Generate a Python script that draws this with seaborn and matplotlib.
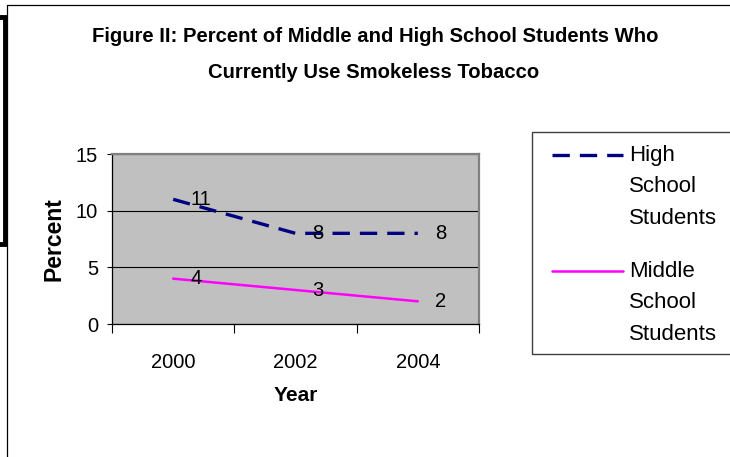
import matplotlib
matplotlib.use("Agg")
import matplotlib.pyplot as plt
from matplotlib.legend_handler import HandlerLine2D
from matplotlib.patches import Rectangle
from matplotlib.lines import Line2D
import seaborn as sns
import pandas as pd

# Survey years and the share of students using smokeless tobacco
years = ["2000", "2002", "2004"]
high_school = [11, 8, 8]
middle_school = [4, 3, 2]
series_names = ["High\nSchool\nStudents", "Middle\nSchool\nStudents"]
y_ticks = [0, 5, 10, 15]

sns.set_theme(style="white")
plt.rcParams["font.family"] = ["Liberation Sans", "DejaVu Sans"]
for key in ("text.color", "axes.labelcolor", "xtick.color", "ytick.color"):
    plt.rcParams[key] = "black"

W, H = 730, 457
fig = plt.figure(figsize=(W / 100, H / 100), dpi=100)
fig.patch.set_facecolor("white")


def fx(px):
    return px / W


def fy(py):
    return 1 - py / H


ax = fig.add_axes([fx(112), fy(324), fx(479) - fx(112), fy(154) - fy(324)])
ax.set_facecolor("#C0C0C0")

df = pd.DataFrame({
    "pos": list(range(len(years))) * 2,
    "value": high_school + middle_school,
    "group": [series_names[0]] * len(years) + [series_names[1]] * len(years),
})

sns.lineplot(data=df[df.group == series_names[0]], x="pos", y="value", ax=ax,
             color="#000080", linewidth=2.4, legend=False)
sns.lineplot(data=df[df.group == series_names[1]], x="pos", y="value", ax=ax,
             color="#FF00FF", linewidth=1.8, legend=False)
hs_line, ms_line = ax.get_lines()[:2]
hs_line.set_dashes((5.2, 3.0))
hs_line.set_dash_capstyle("butt")

# value labels beside each point
for vals in (high_school, middle_school):
    for i, v in enumerate(vals):
        ax.annotate(str(v), (i, v), xytext=(12.3, 0), textcoords="offset points",
                    ha="left", va="center", fontsize=14.5)

ax.set_xlim(-0.5, len(years) - 0.5)
ax.set_ylim(0, 15)
ax.set_yticks(y_ticks)
ax.set_yticklabels([str(t) for t in y_ticks])
ax.set_xticks([i - 0.5 for i in range(len(years) + 1)])
ax.set_xticklabels([])
ax.set_xticks(range(len(years)), minor=True)
ax.set_xticklabels(years, minor=True)
ax.tick_params(axis="x", which="major", length=6.5, width=0.8, color="black",
               direction="out", bottom=True)
ax.tick_params(axis="x", which="minor", length=0, pad=21, labelsize=14.5)
ax.tick_params(axis="y", which="major", length=3.6, width=0.8, color="black",
               direction="out", left=True, pad=6.5, labelsize=14.5)

ax.yaxis.grid(True, color="black", linewidth=0.8)
ax.xaxis.grid(False)
ax.set_axisbelow(True)

for side in ("top", "right"):
    ax.spines[side].set_color("#808080")
    ax.spines[side].set_linewidth(1.6)
for side in ("left", "bottom"):
    ax.spines[side].set_color("black")
    ax.spines[side].set_linewidth(0.9)

ax.set_xlabel("Year", fontsize=15, fontweight="bold", labelpad=10)
ax.set_ylabel("Percent", fontsize=16.5, fontweight="bold", labelpad=7)

fig.text(fx(375), fy(36), "Figure II: Percent of Middle and High School Students Who",
         ha="center", va="center", fontsize=14.6, fontweight="bold")
fig.text(fx(374), fy(72), "Currently Use Smokeless Tobacco",
         ha="center", va="center", fontsize=14.6, fontweight="bold")

LEGEND_SIZE = 16
LINE_SPACING = 1.65


class FirstLineHandler(HandlerLine2D):
    """Put the sample line beside the first line of a three-line label."""

    def create_artists(self, legend, orig_handle, xdescent, ydescent, width, height,
                       fontsize, trans):
        artists = super().create_artists(legend, orig_handle, xdescent, ydescent, width,
                                         height, fontsize, trans)
        shift = 23.3
        for a in artists:
            if isinstance(a, Line2D):
                a.set_ydata([y + shift for y in a.get_ydata()])
        return artists


# legend frame
fig.patches.append(Rectangle((fx(532), fy(354)), fx(745) - fx(532), fy(132) - fy(354),
                             transform=fig.transFigure, fill=False, edgecolor="#404040",
                             linewidth=1.0))
leg = fig.legend([hs_line, ms_line], series_names, loc="upper left",
                 bbox_to_anchor=(fx(552), fy(145)), borderaxespad=0, borderpad=0,
                 frameon=False, fontsize=LEGEND_SIZE, handlelength=3.2,
                 handletextpad=0.25, labelspacing=1.45,
                 handler_map={Line2D: FirstLineHandler()})
for t in leg.get_texts():
    t.set_linespacing(LINE_SPACING)

# page frame and side bracket
fig.lines.append(Line2D([fx(7), fx(7), fx(735)], [fy(460), fy(5), fy(5)],
                        transform=fig.transFigure, color="black", linewidth=0.9))
fig.patches.append(Rectangle((fx(-20), fy(244)), fx(25), fy(17) - fy(244),
                             transform=fig.transFigure, fill=False, edgecolor="black",
                             linewidth=3.5))

fig.savefig("out.png", dpi=100, facecolor="white")
